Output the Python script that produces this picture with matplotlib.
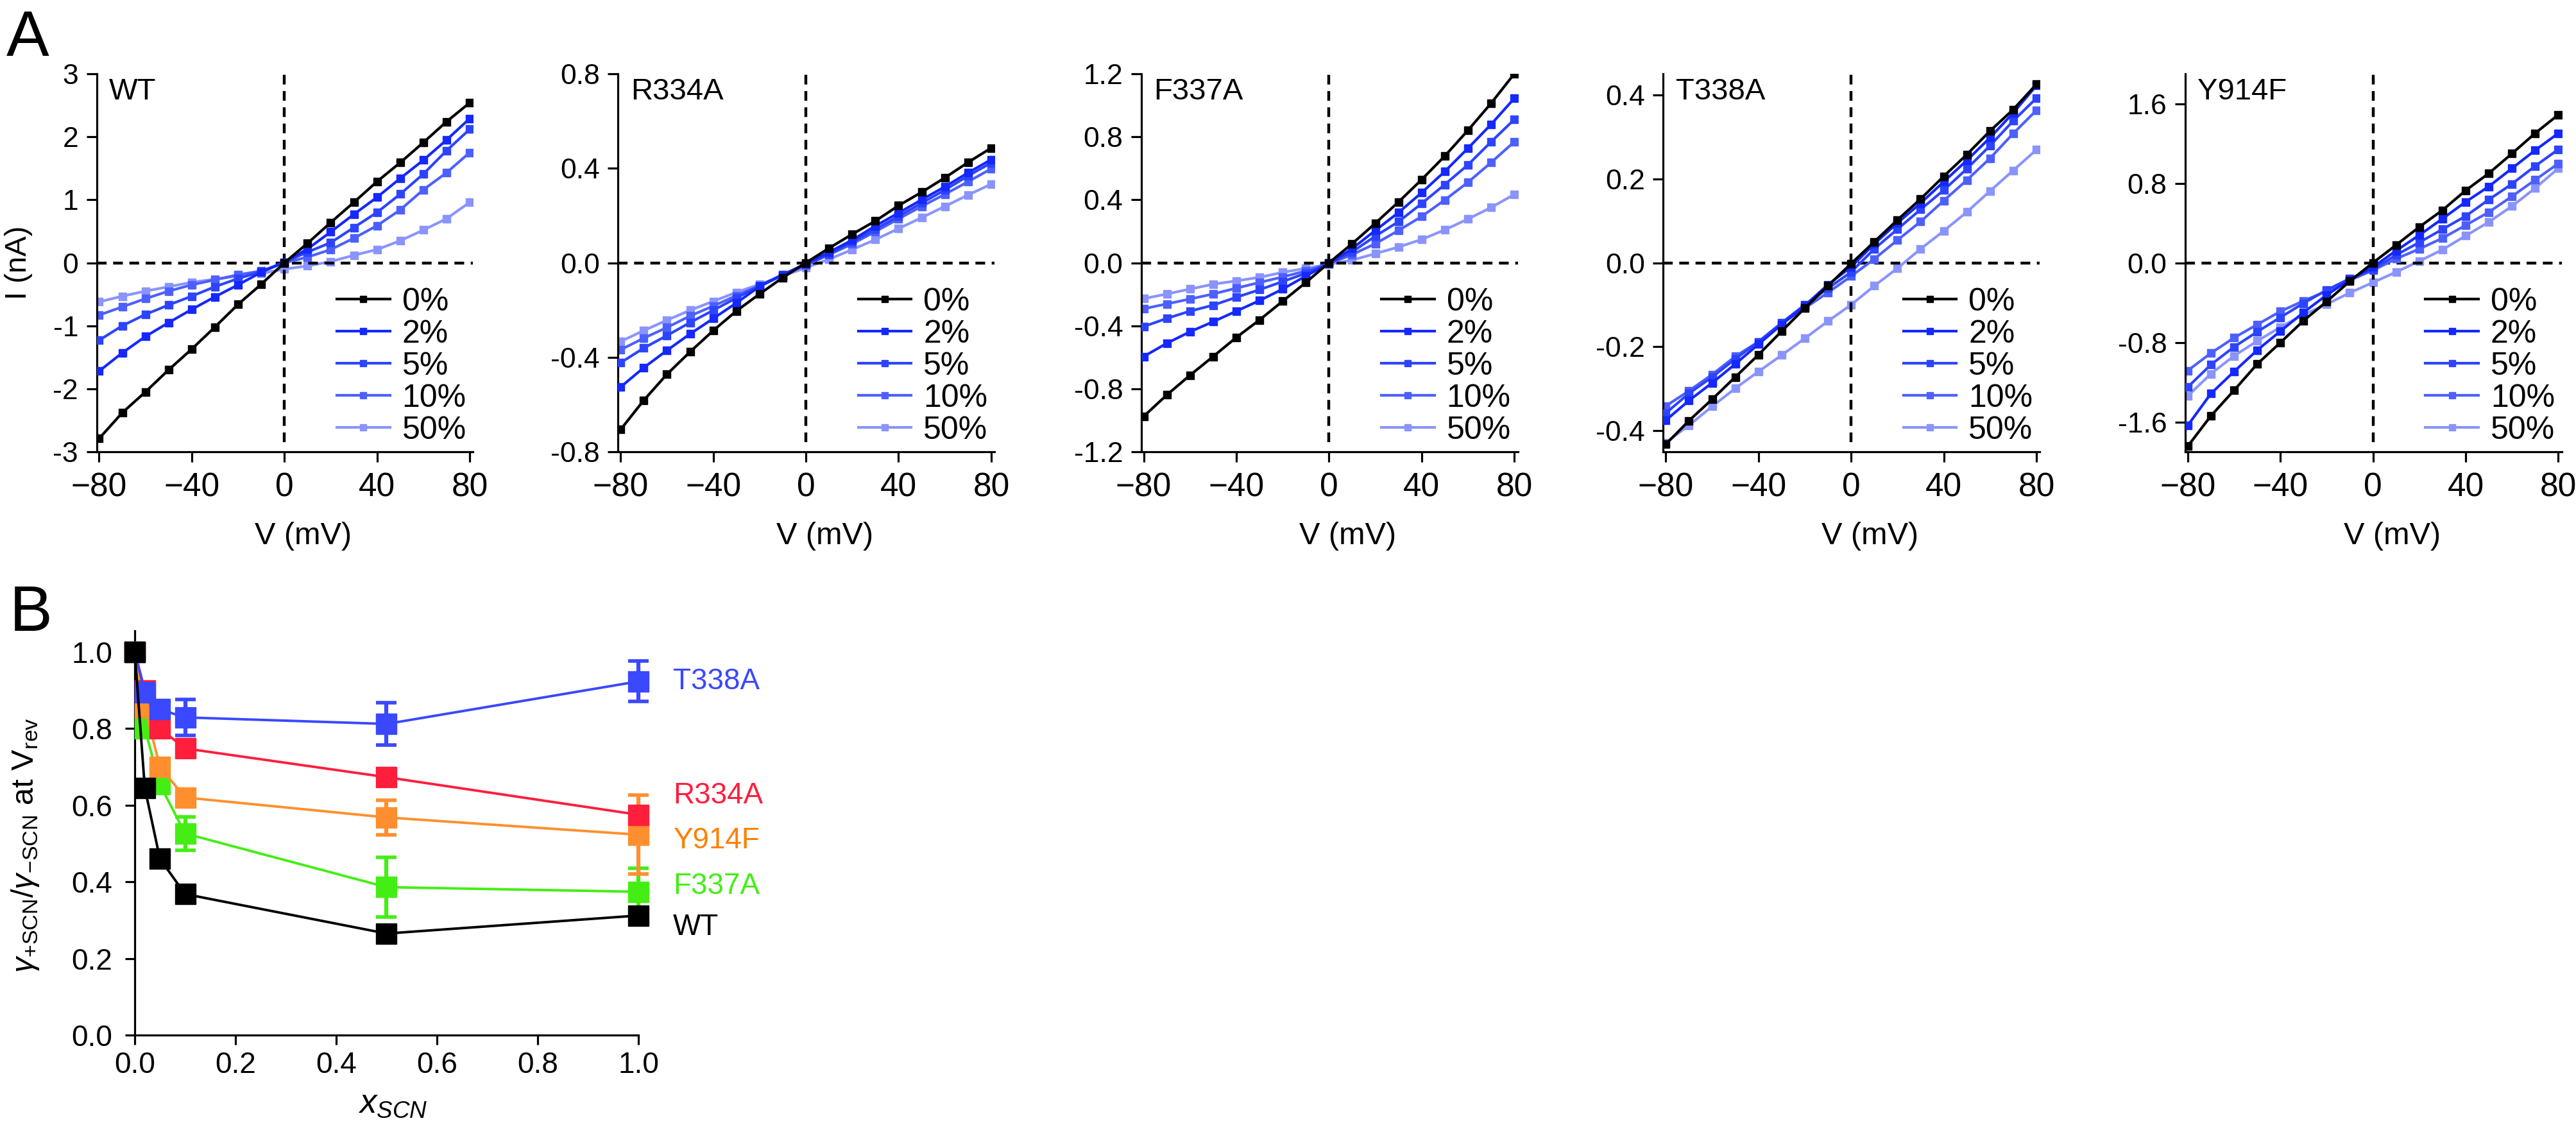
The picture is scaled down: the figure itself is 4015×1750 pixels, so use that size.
import numpy as np
import matplotlib
matplotlib.use("Agg")
import matplotlib.pyplot as plt

plt.rcParams['font.family'] = ['Liberation Sans', 'DejaVu Sans']
plt.rcParams['mathtext.fontset'] = 'custom'
plt.rcParams['mathtext.rm'] = 'Liberation Sans'
plt.rcParams['mathtext.it'] = 'Liberation Sans:italic'
plt.rcParams['mathtext.bf'] = 'Liberation Sans:bold'

# --- panel A: I-V curves, voltage steps in mV
volts = [-80, -70, -60, -50, -40, -30, -20, -10, 0, 10, 20, 30, 40, 50, 60, 70, 80]
conc_labels = ['0%', '2%', '5%', '10%', '50%']
conc_colors = ['#000000', '#1428ff', '#2d44ff', '#4d60ff', '#8a94ff']

wt_iv = [
    [-2.79, -2.38, -2.05, -1.70, -1.37, -1.02, -0.66, -0.34, 0.0, 0.31, 0.64, 0.96, 1.29, 1.59, 1.91, 2.24, 2.54],
    [-1.72, -1.43, -1.17, -0.95, -0.74, -0.54, -0.35, -0.15, 0.01, 0.22, 0.49, 0.77, 1.04, 1.34, 1.63, 1.95, 2.29],
    [-1.23, -1.00, -0.82, -0.67, -0.53, -0.38, -0.25, -0.14, 0.01, 0.17, 0.32, 0.56, 0.80, 1.09, 1.41, 1.78, 2.12],
    [-0.83, -0.70, -0.57, -0.45, -0.35, -0.27, -0.19, -0.13, 0.0, 0.09, 0.21, 0.39, 0.59, 0.84, 1.16, 1.43, 1.75],
    [-0.62, -0.53, -0.45, -0.38, -0.31, -0.26, -0.21, -0.17, -0.10, -0.05, 0.02, 0.12, 0.21, 0.35, 0.52, 0.70, 0.96],
]
r334a_iv = [
    [-0.706, -0.582, -0.472, -0.377, -0.287, -0.204, -0.132, -0.063, 0.0, 0.062, 0.121, 0.177, 0.242, 0.299, 0.360, 0.425, 0.486],
    [-0.526, -0.444, -0.371, -0.301, -0.236, -0.170, -0.100, -0.052, -0.003, 0.045, 0.096, 0.156, 0.211, 0.267, 0.322, 0.381, 0.437],
    [-0.423, -0.361, -0.308, -0.253, -0.201, -0.149, -0.098, -0.049, -0.008, 0.038, 0.087, 0.142, 0.197, 0.253, 0.308, 0.368, 0.423],
    [-0.368, -0.319, -0.274, -0.225, -0.183, -0.139, -0.096, -0.052, -0.010, 0.034, 0.080, 0.132, 0.186, 0.239, 0.290, 0.343, 0.398],
    [-0.333, -0.287, -0.243, -0.201, -0.163, -0.125, -0.091, -0.056, -0.021, 0.015, 0.056, 0.098, 0.145, 0.191, 0.239, 0.287, 0.333],
]
f337a_iv = [
    [-0.975, -0.839, -0.714, -0.595, -0.474, -0.363, -0.244, -0.125, 0.0, 0.121, 0.251, 0.386, 0.528, 0.678, 0.841, 1.013, 1.200],
    [-0.595, -0.511, -0.438, -0.374, -0.307, -0.240, -0.167, -0.084, -0.004, 0.090, 0.205, 0.319, 0.445, 0.580, 0.727, 0.879, 1.044],
    [-0.405, -0.353, -0.307, -0.269, -0.219, -0.171, -0.119, -0.067, -0.004, 0.069, 0.169, 0.261, 0.376, 0.497, 0.622, 0.768, 0.910],
    [-0.292, -0.261, -0.230, -0.198, -0.161, -0.125, -0.090, -0.052, -0.006, 0.052, 0.121, 0.205, 0.294, 0.399, 0.511, 0.637, 0.768],
    [-0.228, -0.198, -0.167, -0.136, -0.115, -0.092, -0.061, -0.035, -0.010, 0.017, 0.058, 0.100, 0.148, 0.209, 0.278, 0.351, 0.434],
]
t338a_iv = [
    [-0.432, -0.376, -0.325, -0.272, -0.219, -0.163, -0.108, -0.055, -0.002, 0.050, 0.102, 0.152, 0.206, 0.258, 0.314, 0.365, 0.425],
    [-0.375, -0.328, -0.286, -0.241, -0.194, -0.147, -0.102, -0.052, -0.010, 0.045, 0.095, 0.142, 0.193, 0.244, 0.298, 0.357, 0.422],
    [-0.358, -0.311, -0.272, -0.229, -0.188, -0.143, -0.100, -0.061, -0.022, 0.033, 0.080, 0.127, 0.173, 0.224, 0.279, 0.338, 0.392],
    [-0.341, -0.305, -0.266, -0.223, -0.188, -0.145, -0.108, -0.071, -0.032, 0.009, 0.054, 0.098, 0.148, 0.197, 0.249, 0.308, 0.363],
    [-0.428, -0.387, -0.342, -0.299, -0.259, -0.220, -0.180, -0.139, -0.100, -0.055, -0.013, 0.033, 0.076, 0.121, 0.171, 0.220, 0.269],
]
y914f_iv = [
    [-1.845, -1.540, -1.283, -1.018, -0.803, -0.582, -0.390, -0.185, 0.0, 0.179, 0.360, 0.529, 0.727, 0.899, 1.098, 1.302, 1.488],
    [-1.636, -1.316, -1.094, -0.879, -0.688, -0.499, -0.324, -0.169, -0.043, 0.122, 0.278, 0.443, 0.612, 0.767, 0.949, 1.131, 1.302],
    [-1.250, -1.025, -0.846, -0.694, -0.549, -0.407, -0.274, -0.159, -0.066, 0.079, 0.205, 0.337, 0.469, 0.635, 0.793, 0.972, 1.140],
    [-1.084, -0.909, -0.754, -0.621, -0.489, -0.383, -0.284, -0.175, -0.076, 0.040, 0.139, 0.248, 0.377, 0.509, 0.668, 0.833, 0.998],
    [-1.339, -1.117, -0.936, -0.787, -0.648, -0.522, -0.417, -0.301, -0.198, -0.093, 0.017, 0.132, 0.271, 0.410, 0.569, 0.750, 0.949],
]

panel_names = ['WT', 'R334A', 'F337A', 'T338A', 'Y914F']
panel_data = [wt_iv, r334a_iv, f337a_iv, t338a_iv, y914f_iv]
panel_ylim = [3.0, 0.8, 1.2, 0.45, 1.9]
panel_yticks = [
    [-3, -2, -1, 0, 1, 2, 3],
    [-0.8, -0.4, 0.0, 0.4, 0.8],
    [-1.2, -0.8, -0.4, 0.0, 0.4, 0.8, 1.2],
    [-0.4, -0.2, 0.0, 0.2, 0.4],
    [-1.6, -0.8, 0.0, 0.8, 1.6],
]
panel_yfmt = ['{:.0f}', '{:.1f}', '{:.1f}', '{:.1f}', '{:.1f}']

# --- panel B: relative conductance vs SCN mole fraction
x_scn = [0.0, 0.02, 0.05, 0.1, 0.5, 1.0]
mutants = ['F337A', 'Y914F', 'R334A', 'T338A', 'WT']
mut_colors = ['#44ee14', '#ff8f2e', '#ff1e3c', '#3a48ff', '#000000']
mut_text_colors = ['#44ee14', '#ff8000', '#ff1e3c', '#3a48ff', '#000000']
mut_mean = [
    [1.0, 0.80, 0.654, 0.526, 0.386, 0.374],
    [1.0, 0.855, 0.70, 0.62, 0.568, 0.523],
    [1.0, 0.90, 0.80, 0.748, 0.673, 0.575],
    [1.0, 0.895, 0.85, 0.829, 0.812, 0.923],
    [1.0, 0.645, 0.46, 0.368, 0.265, 0.312],
]
mut_err = [
    [0, 0, 0, 0.043, 0.078, 0.062],
    [0, 0, 0, 0, 0.045, 0.103],
    [0, 0, 0, 0, 0, 0],
    [0, 0, 0, 0.047, 0.055, 0.053],
    [0, 0, 0, 0, 0, 0],
]
label_y = [0.389, 0.508, 0.625, 0.923, 0.282]

W, H = 4016, 1750
fig = plt.figure(figsize=(W / 100, H / 100), dpi=100)

lefts = [150.5, 963.3, 1778.6, 2592.4, 3405.8]


def style_axes(ax, lw=2.3):
    ax.spines['top'].set_visible(False)
    ax.spines['right'].set_visible(False)
    ax.spines['left'].set_linewidth(lw)
    ax.spines['bottom'].set_linewidth(lw)


for k in range(5):
    ax = fig.add_axes([lefts[k] / W, 1 - 704 / H, 587 / W, 589 / H])
    style_axes(ax)
    for j in range(5):
        ax.plot(volts, panel_data[k][j], '-s', color=conc_colors[j], lw=3.0, ms=8.5,
                label=conc_labels[j], zorder=5 - j)
    ax.axhline(0, color='black', lw=3.2, ls=(0, (3.4, 2.3)), zorder=1)
    ax.axvline(0, ymin=0.025, color='black', lw=3.2, ls=(0, (3.4, 2.3)), zorder=1)
    ax.set_xlim(-81.1, 81.5)
    ax.set_ylim(-panel_ylim[k], panel_ylim[k])
    ax.set_xticks([-80, -40, 0, 40, 80])
    ax.set_yticks(panel_yticks[k])
    ax.set_yticklabels([panel_yfmt[k].format(v) for v in panel_yticks[k]])
    ax.tick_params(axis='both', direction='out', length=11.5, width=2.3)
    ax.tick_params(axis='x', labelsize=37, pad=11)
    ax.tick_params(axis='y', labelsize=32, pad=9)
    ax.set_xlabel('V (mV)', fontsize=35)
    ax.xaxis.set_label_coords(0.549, -0.185)
    ax.text(0.033, 0.952, panel_names[k], transform=ax.transAxes, fontsize=34,
            ha='left', va='center')
    ax.legend(loc='center left', bbox_to_anchor=(0.638, 0.226), frameon=False,
              fontsize=36, handlelength=1.65, handletextpad=0.38, labelspacing=0.08,
              borderpad=0, borderaxespad=0, markerscale=0.9)
    if k == 0:
        ax.set_ylabel('I (nA)', fontsize=34)
        ax.yaxis.set_label_coords(-0.17, 0.5)

# --- panel B
axb = fig.add_axes([210 / W, 1 - 1613 / H, 785 / W, 630 / H])
style_axes(axb)
for i in range(len(mutants)):
    err = np.array(mut_err[i])
    axb.errorbar(x_scn, mut_mean[i], yerr=np.where(err > 0, err, np.nan), fmt='-s',
                 color=mut_colors[i], lw=2.8, ms=23, elinewidth=4.5, capsize=11.5,
                 capthick=4, zorder=3 + i, clip_on=False)
    axb.text(1.069, label_y[i], mutants[i], color=mut_text_colors[i], fontsize=33,
             ha='left', va='center')
axb.set_xlim(0, 1.0)
axb.set_ylim(0, 1.055)
axb.set_xticks([0.0, 0.2, 0.4, 0.6, 0.8, 1.0])
axb.set_xticklabels(['0.0', '0.2', '0.4', '0.6', '0.8', '1.0'])
axb.set_yticks([0.0, 0.2, 0.4, 0.6, 0.8, 1.0])
axb.set_yticklabels(['0.0', '0.2', '0.4', '0.6', '0.8', '1.0'])
axb.tick_params(axis='both', direction='out', length=11, width=2.3, labelsize=33)
axb.tick_params(axis='x', pad=7)
axb.tick_params(axis='y', pad=14)
axb.set_xlabel(r'$\mathit{x}_{\mathit{SCN}}$', fontsize=38)
axb.xaxis.set_label_coords(0.512, -0.13)
axb.set_ylabel(r'$\gamma_{+\mathrm{SCN}}/\gamma_{-\mathrm{SCN}}$ at V$_{\mathrm{rev}}$', fontsize=35)
axb.yaxis.set_label_coords(-0.186, 0.47)

fig.text(10 / W, 1 - 87 / H, 'A', fontsize=72, ha='left', va='baseline')
fig.text(15 / W, 1 - 983 / H, 'B', fontsize=72, ha='left', va='baseline')

fig.savefig('out.png', dpi=100)
